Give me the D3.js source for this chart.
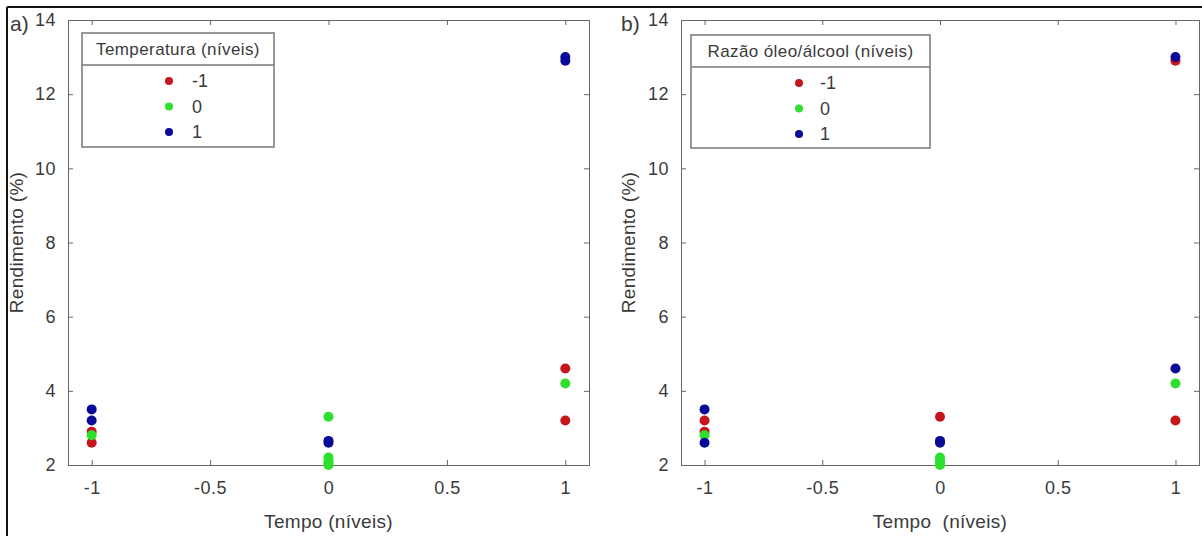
<!DOCTYPE html>
<html>
<head>
<meta charset="utf-8">
<script src="https://cdn.jsdelivr.net/npm/d3@7/dist/d3.min.js"></script>
<style>
  html, body { margin: 0; padding: 0; background: #fff; }
  svg { display: block; }
  text { font-family: "Liberation Sans", Arial, sans-serif; fill: #3a3a3a; }
</style>
</head>
<body>
<svg id="chart" width="1202" height="536"></svg>
<script>
// ---- data ----
const tempo       = [-1, -1, -1, -1, -1, 0, 0, 0, 0, 0, 0, 0, 1, 1, 1, 1, 1];
const rendimento  = [3.5, 3.2, 2.9, 2.8, 2.6, 3.3, 2.65, 2.6, 2.2, 2.1, 2.05, 2.0, 13.0, 12.9, 4.6, 4.2, 3.2];
const temperatura = [1, 1, -1, 0, -1, 0, 1, 1, 0, 0, 0, 0, 1, 1, -1, 0, -1];
const razao       = [1, -1, -1, 0, 1, -1, 1, 1, 0, 0, 0, 0, 1, -1, 1, 0, -1];
const levels      = [-1, 0, 1];
const levelColors = ["#c4161c", "#2ee02e", "#0a0a98"];
const xTicks      = [-1, -0.5, 0, 0.5, 1];
const yTicks      = [2, 4, 6, 8, 10, 12, 14];

const panels = [
  { tag: "a)", legendTitle: "Temperatura (níveis)", xLabel: "Tempo (níveis)", group: temperatura,
    left: 68, right: 589, tagX: 10, yLabX: 23, legend: { x: 82, y: 33, w: 192, h: 114, sep: 32, mx: 169, lx: 192 } },
  { tag: "b)", legendTitle: "Razão óleo/álcool (níveis)", xLabel: "Tempo  (níveis)", group: razao,
    left: 681, right: 1199, tagX: 621, yLabX: 635, legend: { x: 691, y: 35, w: 239, h: 113, sep: 32, mx: 799, lx: 820 } }
];

const plotTop = 20, plotBottom = 465;
const svg = d3.select("#chart");
const color = d3.scaleOrdinal().domain(levels).range(levelColors);
const fmt = d => String(d);

// outer frame
svg.append("line").attr("x1", 7).attr("x2", 1202).attr("y1", 7).attr("y2", 7).attr("stroke", "#111").attr("stroke-width", 2);
svg.append("line").attr("x1", 7).attr("x2", 7).attr("y1", 7).attr("y2", 536).attr("stroke", "#111").attr("stroke-width", 2);

panels.forEach(p => {
  const x = d3.scaleLinear().domain([-1.1, 1.1]).range([p.left, p.right]);
  const y = d3.scaleLinear().domain([2, 14]).range([plotBottom, plotTop]);
  const g = svg.append("g");

  const styleAxis = sel => {
    sel.select(".domain").attr("stroke", "#666");
    sel.selectAll(".tick line").attr("stroke", "#666");
    sel.selectAll(".tick text").style("font-size", "18px").style("letter-spacing", "0.5px").attr("fill", "#3a3a3a");
  };

  g.append("g").attr("transform", `translate(0,${plotBottom})`)
    .call(d3.axisBottom(x).tickValues(xTicks).tickSize(-5).tickPadding(16).tickFormat(fmt))
    .call(styleAxis);
  g.append("g").attr("transform", `translate(0,${plotTop})`)
    .call(d3.axisTop(x).tickValues(xTicks).tickSize(-5).tickFormat(""))
    .call(styleAxis);
  g.append("g").attr("transform", `translate(${p.left},0)`)
    .call(d3.axisLeft(y).tickValues(yTicks).tickSize(-5).tickPadding(12).tickFormat(fmt))
    .call(styleAxis);
  g.append("g").attr("transform", `translate(${p.right},0)`)
    .call(d3.axisRight(y).tickValues(yTicks).tickSize(-5).tickFormat(""))
    .call(styleAxis);

  // points
  const pts = tempo.map((t, i) => ({ t, r: rendimento[i], lv: p.group[i] }));
  levels.forEach(lv => {
    g.selectAll(null).data(pts.filter(d => d.lv === lv)).enter().append("circle")
      .attr("cx", d => x(d.t)).attr("cy", d => y(d.r)).attr("r", 5)
      .attr("fill", color(lv));
  });

  // labels
  g.append("text").attr("x", (p.left + p.right) / 2).attr("y", 528)
    .attr("text-anchor", "middle").style("font-size", "19px").style("letter-spacing", "0.3px")
    .style("white-space", "pre").text(p.xLabel);
  g.append("text").attr("transform", `translate(${p.yLabX},${(plotTop + plotBottom) / 2}) rotate(-90)`)
    .attr("text-anchor", "middle").style("font-size", "19px").style("letter-spacing", "0.3px").text("Rendimento (%)");
  g.append("text").attr("x", p.tagX).attr("y", 31).style("font-size", "21px").attr("fill", "#222").text(p.tag);

  // legend
  const L = p.legend;
  const lg = g.append("g");
  lg.append("rect").attr("x", L.x).attr("y", L.y).attr("width", L.w).attr("height", L.h)
    .attr("fill", "#fff").attr("stroke", "#777").attr("stroke-width", 1.5);
  lg.append("line").attr("x1", L.x).attr("x2", L.x + L.w).attr("y1", L.y + L.sep).attr("y2", L.y + L.sep)
    .attr("stroke", "#777").attr("stroke-width", 1.5);
  lg.append("text").attr("x", L.x + L.w / 2).attr("y", L.y + 22).attr("text-anchor", "middle")
    .style("font-size", "17px").style("letter-spacing", "0.4px").attr("fill", "#222").text(p.legendTitle);
  levels.forEach((lv, i) => {
    const cy = L.y + 48 + i * 25.5;
    lg.append("circle").attr("cx", L.mx).attr("cy", cy).attr("r", 4).attr("fill", color(lv));
    lg.append("text").attr("x", L.lx).attr("y", cy + 6).style("font-size", "18px").attr("fill", "#333").text(fmt(lv));
  });
});
</script>
</body>
</html>
